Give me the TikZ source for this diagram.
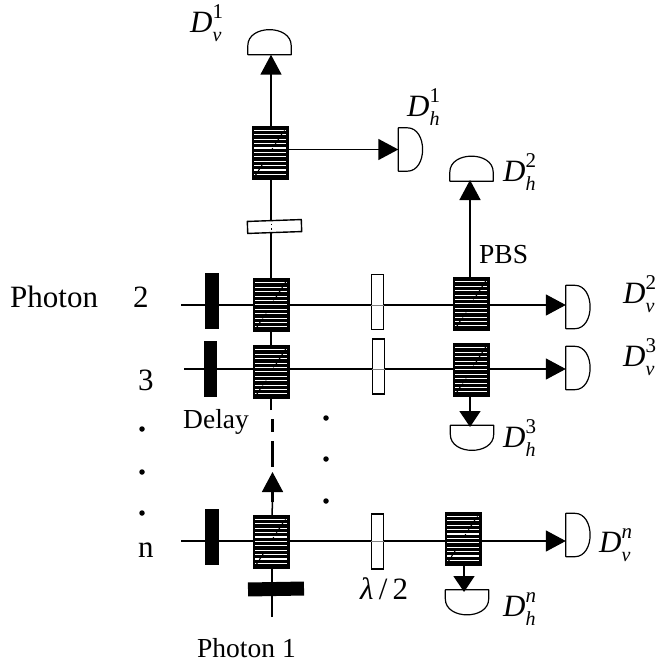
\documentclass[tikz,border=0pt]{standalone}
\usepackage{fontspec}
\setmainfont{Liberation Serif}
\usetikzlibrary{arrows.meta}
\tikzset{
  beam/.style={line width=1.5pt},
  tip/.style={-{Triangle[length=20pt,width=21pt]}},
  shorttip/.style={-{Triangle[length=16pt,width=21pt]}},
  pbs/.style={fill=black,draw=black,inner sep=0pt,minimum width=36pt,minimum height=53pt,
    path picture={
      \foreach \k in {1,...,11}{
        \draw[white,line width=1.1pt] ([xshift=2pt,yshift=-\k*4.4pt]path picture bounding box.north west)--([xshift=-2pt,yshift=-\k*4.4pt]path picture bounding box.north east);}
      \draw[black,line width=1.1pt,dashed] ([shift={(3pt,3pt)}]path picture bounding box.south west)--([shift={(-3pt,-3pt)}]path picture bounding box.north east);
    }},
  delay/.style={fill=black,inner sep=0pt,minimum width=14pt,minimum height=56pt},
  plate/.style={fill=white,draw=black,line width=1.4pt,inner sep=0pt,minimum width=12pt,minimum height=55pt},
  det/.style={inner sep=0pt,minimum width=24pt,minimum height=43pt},
  dettop/.style={inner sep=0pt,minimum width=43pt,minimum height=25pt},
  label/.style={inner sep=0pt,anchor=base west,font=\fontsize{31}{31}\selectfont},
  small/.style={inner sep=0pt,anchor=base west,font=\fontsize{27.5}{27.5}\selectfont},
  dot/.style={circle,fill=black,inner sep=0pt,minimum size=5.5pt}
}
% detector outlines, flat side towards the beam
\newcommand{\detright}[1]{\draw[line width=1.2pt,line join=round] (#1.north west)--([xshift=9pt]#1.north west) .. controls ([xshift=5pt]#1.north east) and ([xshift=5pt]#1.south east) .. ([xshift=9pt]#1.south west)--(#1.south west)--cycle;}
\newcommand{\detup}[1]{\draw[line width=1.2pt,line join=round] (#1.south west)--([yshift=9pt]#1.south west) .. controls ([yshift=5pt]#1.north west) and ([yshift=5pt]#1.north east) .. ([yshift=9pt]#1.south east)--(#1.south east)--cycle;}
\newcommand{\detdown}[1]{\draw[line width=1.2pt,line join=round] (#1.north west)--([yshift=-9pt]#1.north west) .. controls ([yshift=-5pt]#1.south west) and ([yshift=-5pt]#1.south east) .. ([yshift=-9pt]#1.north east)--(#1.north east)--cycle;}
% detector label: italic D with raised index and lowered polarisation
\newcommand{\dlab}[2]{\textit{D}\rlap{\raisebox{14pt}{\fontsize{21}{21}\selectfont #2}}\raisebox{-9pt}{\fontsize{20}{20}\selectfont\textit{#1}}}
\begin{document}
\begin{tikzpicture}[x=1pt,y=-1pt]
  \useasboundingbox (0,0) rectangle (657,666);
  % free ends of the beams
  \coordinate (startb) at (181,305);
  \coordinate (startc) at (184,369);
  \coordinate (startn) at (181,541);
  \coordinate (bottom) at (272,617);
  \coordinate (stopline) at (271,410);
  \coordinate (dashtop) at (272.5,419);
  \coordinate (dashend) at (272.5,467);
  \coordinate (arrowlow) at (272.5,502);
  \coordinate (arrowtip) at (272.5,472);
  % detectors
  \node[dettop] (dva) at (269.5,42) {};
  \node[det] (dha) at (410.5,149.5) {};
  \node[dettop] (dhb) at (471.5,168.5) {};
  \node[det] (dvb) at (578,307) {};
  \node[det] (dvc) at (578,368) {};
  \node[dettop] (dhc) at (472,438) {};
  \node[det] (dvn) at (578,535) {};
  \node[dettop] (dhn) at (467,602.5) {};
  \detup{dva} \detright{dha} \detup{dhb} \detright{dvb} \detright{dvc}
  \detdown{dhc} \detright{dvn} \detdown{dhn}
  % elements on the beams
  \node[pbs] (pbsa) at (270,152.5) {};
  \node[pbs] (pbsb) at (271,305) {};
  \node[pbs] (pbsc) at (271,372) {};
  \node[pbs] (pbsn) at (271,541.5) {};
  \node[pbs] (pbsd) at (471,304) {};
  \node[pbs] (pbse) at (471,370) {};
  \node[pbs] (pbsf) at (463,538.5) {};
  % beams
  \draw[beam] (bottom)--(pbsn.south -| bottom);
  \draw[beam] (pbsn.north -| bottom)--(arrowlow);
  \draw[line width=2.8pt] (arrowlow)--++(0,-12);
  \draw[beam,tip] (arrowlow)--(arrowtip);
  \draw[line width=3pt,dash pattern=on 13pt off 9pt on 26pt off 9pt] (dashtop)--(dashend);
  \draw[beam] (stopline)--(pbsc.south -| stopline);
  \draw[beam] (pbsc.north -| stopline)--(pbsb.south -| stopline);
  \draw[beam] (pbsb.north -| stopline)--(pbsa.south -| stopline);
  \draw[beam,tip] (pbsa.north -| stopline)--(dva.south -| stopline);
  \draw[beam,tip] (pbsa.east |- dha.west)--(dha.west);
  \draw[beam,tip] (pbsd.north -| 470,0)--(470,180);
  \draw[beam] (startb)--(pbsb.west |- startb);
  \draw[beam] (pbsb.east |- startb)--(pbsd.west |- startb);
  \draw[beam,tip] (pbsd.east |- startb)--(startb -| dvb.west);
  \draw[beam] (startc)--(pbsc.west |- startc);
  \draw[beam] (pbsc.east |- startc)--(pbse.west |- startc);
  \draw[beam,tip] (pbse.east |- startc)--(startc -| dvc.west);
  \draw[beam,shorttip] (470,396.5)--(470,427);
  \draw[beam] (startn)--(pbsn.west |- startn);
  \draw[beam] (pbsn.east |- startn)--(pbsf.west |- startn);
  \draw[beam,tip] (pbsf.east |- startn)--(startn -| dvn.west);
  \draw[beam,shorttip] (464,565)--(464,592);
  % blocks and plates
  \node[delay] (delb) at (212,301) {};
  \node[delay,minimum width=13pt] (delc) at (210.5,369) {};
  \node[delay] (deln) at (212,537) {};
  \node[plate] (plb) at (377.5,302) {};
  \node[plate] (plc) at (378.5,366.5) {};
  \node[plate] (pln) at (377.5,541.5) {};
  \node[plate,minimum height=54pt,rotate=92] (pla) at (274.5,226.5) {};
  \node[delay,minimum width=56pt,minimum height=14pt,rotate=1] (delbot) at (276,589) {};
  \draw[gray,thin] (plb.west |- startb)--(plb.east |- startb);
  \draw[gray,thin] (plc.west |- startc)--(plc.east |- startc);
  \draw[gray,thin] (pln.west |- startn)--(pln.east |- startn);
  \draw[line width=0.9pt,dash pattern=on 1.5pt off 3pt] (271,223.5)--(271,230);
  % labels
  \node[label] (photon) at (10,307) {Photon};
  \node[label] (numb) at (133,307) {2};
  \node[label] (numc) at (138,390) {3};
  \node[label] (numn) at (138,557) {n};
  \node[small] (delaytxt) at (183,428) {Delay};
  \node[small] (phone) at (197,657) {Photon 1};
  \node[small] (pbstxt) at (479,263) {PBS};
  \node[label] (lam) at (360,599) {\textit{λ}\,/\,2};
  \node[label] (ldva) at (190,33) {\dlab{v}{1}};
  \node[label] (ldha) at (407,117) {\dlab{h}{1}};
  \node[label] (ldhb) at (503,181) {\dlab{h}{2}};
  \node[label] (ldvb) at (623,303) {\dlab{v}{2}};
  \node[label] (ldvc) at (623,366) {\dlab{v}{3}};
  \node[label] (ldhc) at (503,447) {\dlab{h}{3}};
  \node[label] (ldvn) at (599,552) {\dlab{v}{\textit{n}}};
  \node[label] (ldhn) at (503,616) {\dlab{h}{\textit{n}}};
  % dots
  \foreach \name/\px/\py in {da/326/418,db/326/459,dc/326/501,dd/142/429,de/142/472,df/142/513}
    \node[dot] (\name) at (\px,\py) {};
\end{tikzpicture}
\end{document}
